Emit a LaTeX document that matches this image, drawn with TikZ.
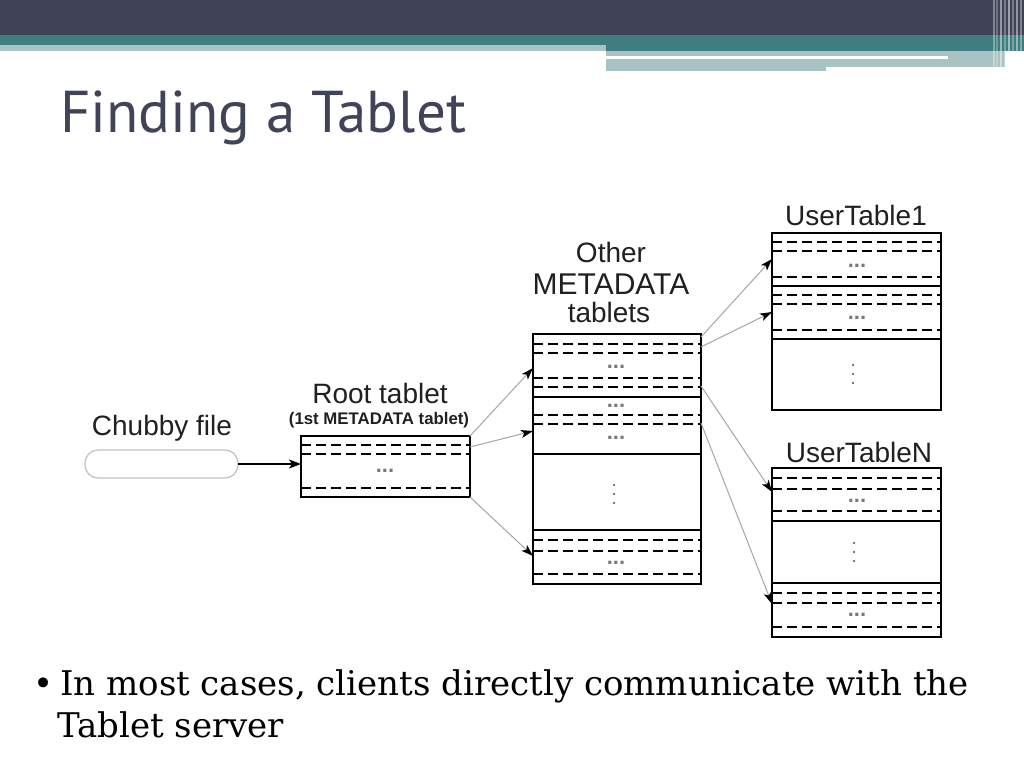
\documentclass[tikz,border=0pt]{standalone}
\usepackage{fontspec}
\setmainfont{DejaVu Serif}
\newfontfamily\diagfont{Liberation Sans}
\newfontfamily\titlefont{PT Sans}
\usetikzlibrary{arrows.meta}
\definecolor{hdrdark}{HTML}{404255}
\definecolor{hdrteal}{HTML}{3F7E80}
\definecolor{hdrlight}{HTML}{A9C2C4}
\definecolor{titlecol}{HTML}{414458}
\definecolor{lblcol}{HTML}{202020}
\definecolor{dotcol}{HTML}{7A7A7A}
\definecolor{arrcol}{HTML}{A6A6A6}
\definecolor{chubcol}{HTML}{C4C4C4}
\newcommand\dashrow[2]{\draw[dline] (#1.west |- 0,#2) -- (#1.east |- 0,#2);}
\newcommand\solidrow[2]{\draw[sline] (#1.west |- 0,#2) -- (#1.east |- 0,#2);}
\newcommand\vdotmark[2]{\foreach \dy in {-9,0,9} \fill[dotcol] (#1-1.4,#2+\dy-1.4) rectangle (#1+1.4,#2+\dy+1.4);}
\begin{document}
\begin{tikzpicture}[x=1pt,y=-1pt,
  tbox/.style={draw=black,line width=2pt,fill=white,inner sep=0pt,outer sep=0pt,anchor=north west},
  dline/.style={line width=2pt,dash pattern=on 10pt off 5pt},
  sline/.style={line width=2pt},
  lbl/.style={font=\diagfont\fontsize{28}{28}\selectfont,text=lblcol,inner sep=0pt,anchor=base},
  hdots/.style={font=\diagfont\bfseries\fontsize{22}{22}\selectfont,text=dotcol,inner sep=0pt,anchor=base},
  link/.style={draw=arrcol,line width=1pt,-{Stealth[length=12pt,width=8pt,inset=3pt,color=black]}},
  feed/.style={draw=black,line width=2pt,-{Stealth[length=12pt,width=9pt,inset=3pt]}}]
\useasboundingbox (0,0) rectangle (1024,768);
\fill[white] (0,0) rectangle (1024,768);
% header
\fill[hdrdark] (0,0) rectangle (1024,34.6);
\fill[hdrteal] (0,34.6) rectangle (606,44.7);
\fill[hdrlight] (0,44.7) rectangle (606,50.8);
\fill[hdrteal] (606,34.6) rectangle (1024,50.8);
\fill[hdrlight] (606,50.8) rectangle (1005,59);
\fill[white] (606,56) rectangle (948,59);
\fill[hdrlight] (606,59) rectangle (826,70.5);
\fill[hdrlight] (826,59) rectangle (1005,67);
\foreach \xx/\op in {994/0.35,997/0.25,1001/0.45,1005/0.3,1009/0.5,1013/0.3,1017/0.45,1021/0.35}
  \draw[white,opacity=\op,line width=1.5pt] (\xx,0) -- (\xx,68);
% title
\node[font=\titlefont\fontsize{59}{59}\selectfont,text=titlecol,inner sep=0pt,anchor=base west] (title) at (60,132) {Finding a Tablet};
% Chubby
\node[lbl] (chubbylbl) at (162,435) {Chubby file};
\node[draw=chubcol,line width=1.3pt,rounded corners=13pt,minimum width=153pt,minimum height=28pt,inner sep=0pt,outer sep=0pt,anchor=north west] (chubby) at (85,450) {};
% Root tablet
\node[lbl] (rootlbl) at (380,403) {Root tablet};
\node[font=\diagfont\bfseries\fontsize{16.8}{16.8}\selectfont,text=lblcol,inner sep=0pt,anchor=base] (rootsub) at (379,424) {(1st METADATA tablet)};
\node[tbox,minimum width=169pt,minimum height=61pt] (root) at (301,436) {};
\dashrow{root}{445}
\dashrow{root}{454}
\dashrow{root}{488}
\node[hdots] (rootdots) at (385,472) {...};
% Metadata
\node[lbl] (othlbl) at (611,262) {Other};
\node[lbl,font=\diagfont\fontsize{30}{30}\selectfont] (metalbl) at (611,294) {METADATA};
\node[lbl] (tabslbl) at (609,322) {tablets};
\node[tbox,minimum width=168pt,minimum height=250pt] (meta) at (533,334) {};
\dashrow{meta}{344}
\dashrow{meta}{353}
\node[hdots] at (616,368) {...};
\dashrow{meta}{378}
\dashrow{meta}{387}
\solidrow{meta}{397}
\node[hdots] at (616,407) {...};
\dashrow{meta}{415}
\dashrow{meta}{424}
\node[hdots] at (616,439) {...};
\solidrow{meta}{454}
\vdotmark{614}{494}
\solidrow{meta}{530}
\dashrow{meta}{540}
\dashrow{meta}{551}
\node[hdots] at (616,564) {...};
\dashrow{meta}{574}
% UserTable1
\node[lbl] (ut1lbl) at (856,225) {UserTable1};
\node[tbox,minimum width=169pt,minimum height=177pt] (ut1) at (772,233) {};
\dashrow{ut1}{242}
\dashrow{ut1}{251}
\node[hdots] at (857,267) {...};
\dashrow{ut1}{277}
\solidrow{ut1}{286}
\dashrow{ut1}{295}
\dashrow{ut1}{304}
\node[hdots] at (857,319) {...};
\dashrow{ut1}{330}
\solidrow{ut1}{339}
\vdotmark{853}{374}
% UserTableN
\node[lbl] (utnlbl) at (859,462) {UserTableN};
\node[tbox,minimum width=169pt,minimum height=169pt] (utn) at (772,468) {};
\dashrow{utn}{478}
\dashrow{utn}{489}
\node[hdots] at (857,502) {...};
\dashrow{utn}{511}
\solidrow{utn}{521}
\vdotmark{854}{552}
\solidrow{utn}{583}
\dashrow{utn}{593}
\dashrow{utn}{603}
\node[hdots] at (857,616) {...};
\dashrow{utn}{627}
% connectors
\draw[feed] (chubby.east) -- (root.west |- chubby.east);
\draw[link] (root.north east) -- (meta.west |- 0,368);
\draw[link] (root.east |- 0,447) -- (meta.west |- 0,431);
\draw[link] (root.south east) -- (meta.west |- 0,556);
\draw[link] (meta.east |- 0,337) -- (ut1.west |- 0,259);
\draw[link] (meta.east |- 0,347) -- (ut1.west |- 0,312);
\draw[link] (meta.east |- 0,386) -- (utn.west |- 0,492);
\draw[link] (meta.east |- 0,423) -- (utn.west |- 0,604);
% bullet text
\node[font=\fontsize{34}{40}\selectfont,inner sep=0pt,anchor=base west] (bullet) at (33,695) {\textbullet};
\node[font=\fontsize{34}{40}\selectfont,inner sep=0pt,anchor=base west] (line1) at (60,695) {In most cases, clients directly communicate with the};
\node[font=\fontsize{34}{40}\selectfont,inner sep=0pt,anchor=base west] (line2) at (57,737) {Tablet server};
\end{tikzpicture}
\end{document}
